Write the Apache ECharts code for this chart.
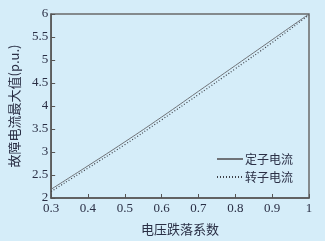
<!DOCTYPE html>
<html>
<head>
<meta charset="utf-8">
<script src="https://cdn.jsdelivr.net/npm/echarts@6/dist/echarts.min.js"></script>
<style>
  html, body { margin: 0; padding: 0; background: #d5edf9; }
  #chart { width: 325px; height: 241px; }
</style>
</head>
<body>
<div id="chart"></div>
<script>
// 电压跌落系数
const dropRatio = [0.3, 0.4, 0.5, 0.6, 0.7, 0.8, 0.9, 1.0];
// 故障电流最大值 (p.u.)
const statorCurrent = [2.19, 2.70, 3.22, 3.76, 4.32, 4.88, 5.44, 6.0];
const rotorCurrent = [2.14, 2.65, 3.16, 3.70, 4.25, 4.81, 5.38, 5.98];

const serif = "Liberation Serif";
const cjk = "Noto Sans CJK SC";

let chart = echarts.init(document.getElementById("chart"));
chart.setOption({
  backgroundColor: "#d5edf9",
  animation: false,
  grid: {
    left: 51,
    right: 16,
    top: 14,
    bottom: 38,
    show: true,
    borderColor: "#6a6a6a",
    borderWidth: 1.5
  },
  legend: {
    orient: "vertical",
    left: 211,
    top: 148,
    itemWidth: 26,
    itemHeight: 8,
    itemGap: 6,
    itemStyle: { opacity: 0 },
    textStyle: { fontFamily: cjk, fontSize: 12, color: "#2a2f45", padding: [0, 0, 0, -3] },
    data: ["定子电流", "转子电流"]
  },
  xAxis: {
    type: "value",
    min: 0.3,
    max: 1,
    interval: 0.1,
    name: "电压跌落系数",
    nameLocation: "middle",
    nameGap: 25,
    nameTextStyle: { fontFamily: cjk, fontSize: 13, color: "#2a2f45" },
    axisLine: { lineStyle: { color: "#555", width: 1.5 } },
    axisTick: { inside: true, length: 4, lineStyle: { color: "#555" } },
    axisLabel: {
      margin: 4,
      fontFamily: serif,
      fontSize: 13,
      color: "#2a2f45",
      formatter: v => (Math.abs(v - 1) < 1e-9 ? "1" : v.toFixed(1))
    },
    splitLine: { show: false }
  },
  yAxis: {
    type: "value",
    min: 2,
    max: 6,
    interval: 0.5,
    name: "故障电流最大值(p.u.)",
    nameLocation: "middle",
    nameGap: 28,
    nameTextStyle: { fontFamily: cjk, fontSize: 13, color: "#2a2f45" },
    axisLine: { lineStyle: { color: "#555", width: 1.5 } },
    axisTick: { inside: true, length: 4, lineStyle: { color: "#555" } },
    axisLabel: {
      margin: 3,
      fontFamily: serif,
      fontSize: 13,
      color: "#2a2f45"
    },
    splitLine: { show: false }
  },
  series: [
    {
      name: "定子电流",
      type: "line",
      smooth: true,
      symbol: "none",
      data: dropRatio.map((x, i) => [x, statorCurrent[i]]),
      lineStyle: { color: "#6f7378", width: 1 },
      itemStyle: { color: "#6f7378" }
    },
    {
      name: "转子电流",
      type: "line",
      smooth: true,
      symbol: "none",
      data: dropRatio.map((x, i) => [x, rotorCurrent[i]]),
      lineStyle: { color: "#3d4048", width: 1.2, type: [1, 2] },
      itemStyle: { color: "#3d4048" }
    }
  ]
});
</script>
</body>
</html>
